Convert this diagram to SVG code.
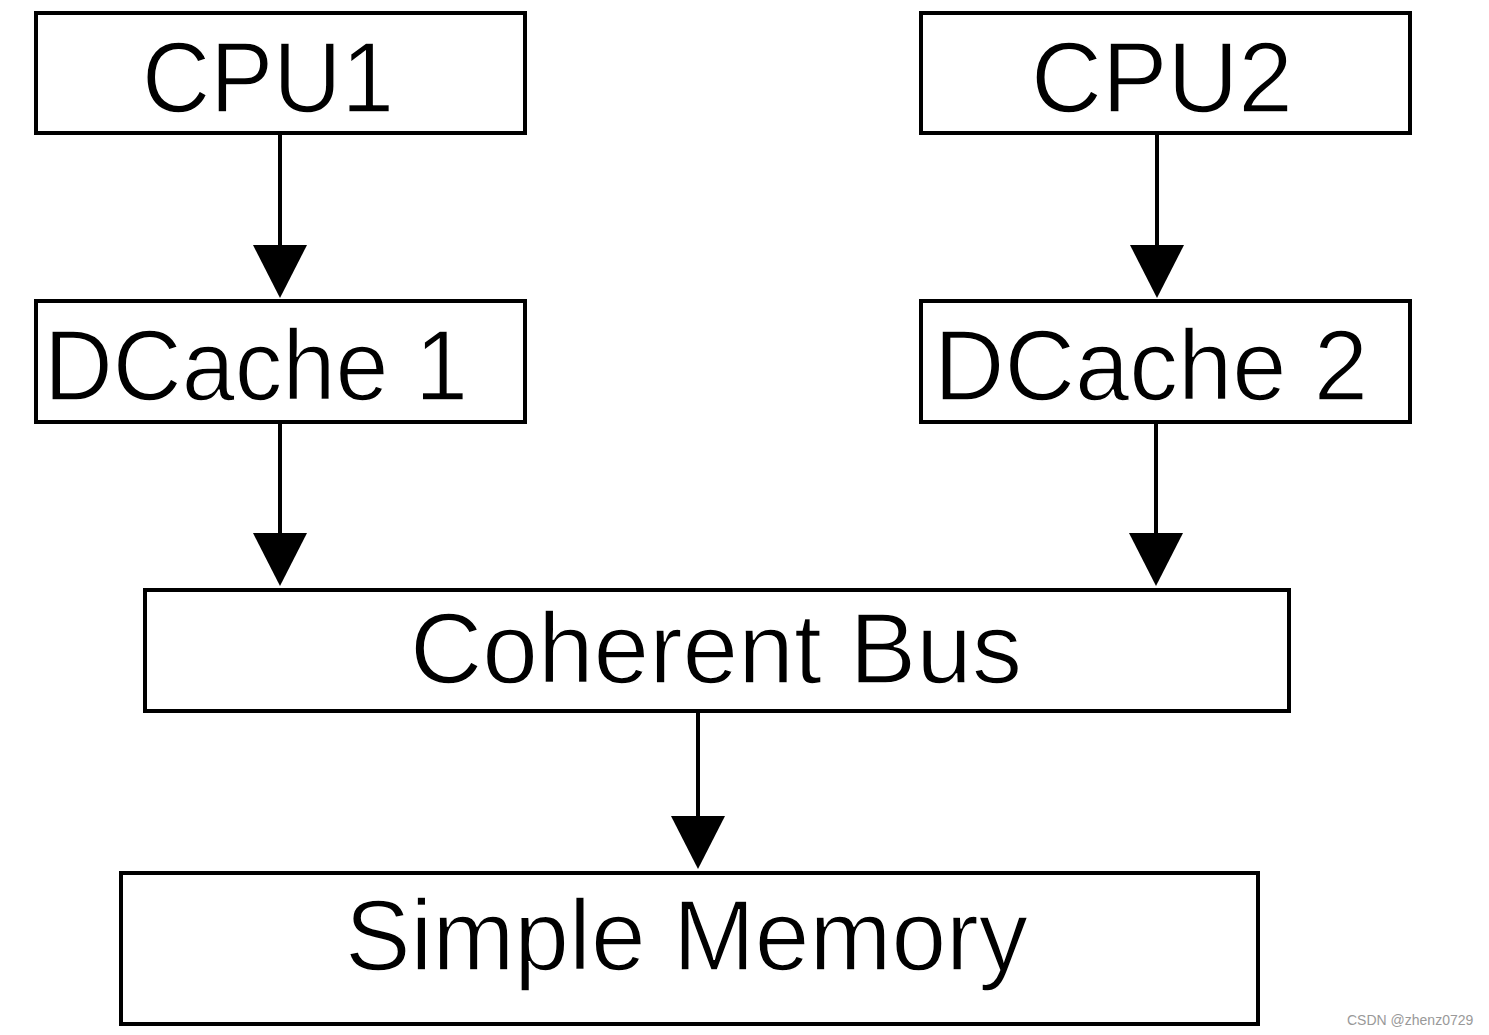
<svg xmlns="http://www.w3.org/2000/svg" width="1489" height="1035" viewBox="0 0 1489 1035">
<defs>
<style>
.box{fill:#fff;stroke:#000;stroke-width:4}
.lbl{font-family:"Liberation Sans",Arial,sans-serif;font-size:100px;fill:#000;stroke:#fff;stroke-width:1.5}
.wm{font-family:"Liberation Sans",Arial,sans-serif;font-size:14px;fill:#999}
.conn{stroke:#000;stroke-width:4;fill:none}
.head{fill:#000}
</style>
</defs>
<rect width="1489" height="1035" fill="#fff"/>
<g id="connectors">
<line class="conn" x1="280" y1="133" x2="280" y2="250"/>
<polygon class="head" points="253,245 307,245 280,298"/>
<line class="conn" x1="1157" y1="133" x2="1157" y2="250"/>
<polygon class="head" points="1130,245 1184,245 1157,298"/>
<line class="conn" x1="280" y1="422" x2="280" y2="537"/>
<polygon class="head" points="253,533 307,533 280,586"/>
<line class="conn" x1="1156" y1="422" x2="1156" y2="537"/>
<polygon class="head" points="1129,533 1183,533 1156,586"/>
<line class="conn" x1="698" y1="711" x2="698" y2="820"/>
<polygon class="head" points="671,816 725,816 698,869"/>
</g>
<g id="cpu1">
<rect class="box" x="36" y="13" width="489" height="120"/>
<text class="lbl" x="142" y="112" textLength="252" lengthAdjust="spacingAndGlyphs">CPU1</text>
</g>
<g id="cpu2">
<rect class="box" x="921" y="13" width="489" height="120"/>
<text class="lbl" x="1031" y="112" textLength="262" lengthAdjust="spacingAndGlyphs">CPU2</text>
</g>
<g id="dcache1">
<rect class="box" x="36" y="301" width="489" height="121"/>
<text class="lbl" x="44" y="400" textLength="424" lengthAdjust="spacingAndGlyphs">DCache 1</text>
</g>
<g id="dcache2">
<rect class="box" x="921" y="301" width="489" height="121"/>
<text class="lbl" x="934" y="400" textLength="434" lengthAdjust="spacingAndGlyphs">DCache 2</text>
</g>
<g id="bus">
<rect class="box" x="145" y="590" width="1144" height="121"/>
<text class="lbl" x="410" y="683" textLength="612" lengthAdjust="spacingAndGlyphs">Coherent Bus</text>
</g>
<g id="memory">
<rect class="box" x="121" y="873" width="1137" height="151"/>
<text class="lbl" x="345" y="970" textLength="683" lengthAdjust="spacingAndGlyphs">Simple Memory</text>
</g>
<text class="wm" x="1347" y="1025">CSDN @zhenz0729</text>
</svg>
